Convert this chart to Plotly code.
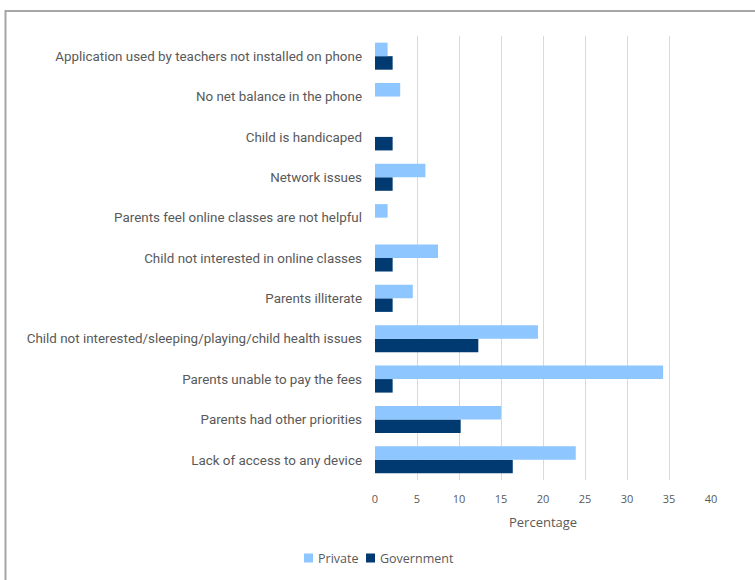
import plotly.graph_objects as go

# Reasons for not attending online classes, listed bottom-to-top as drawn
reasons = [
    "Lack of access to any device",
    "Parents had other priorities",
    "Parents unable to pay the fees",
    "Child not interested/sleeping/playing/child health issues",
    "Parents illiterate",
    "Child not interested in online classes",
    "Parents feel online classes are not helpful",
    "Network issues",
    "Child is handicaped",
    "No net balance in the phone",
    "Application used by teachers not installed on phone",
]
private = [23.9, 15.0, 34.3, 19.4, 4.5, 7.5, 1.5, 6.0, 0, 3.0, 1.5]
government = [16.4, 10.2, 2.1, 12.3, 2.1, 2.1, 0, 2.1, 2.1, 0, 2.1]

x_ticks = [0, 5, 10, 15, 20, 25, 30, 35, 40]

PRIVATE_COLOR = "#8ec6ff"
GOV_COLOR = "#003a70"
TEXT_COLOR = "#595959"

# plot area in pixels
L, R, T, B = 375, 44, 36, 100
W, H = 755, 580
pw, ph = W - L - R, H - T - B

def px_x(p):
    return (p - L) / pw

def px_y(p):
    return (H - B - p) / ph

fig = go.Figure()
fig.add_trace(go.Bar(
    y=reasons, x=government, orientation="h", name="Government",
    marker=dict(color=GOV_COLOR, line=dict(width=0)),
))
fig.add_trace(go.Bar(
    y=reasons, x=private, orientation="h", name="Private",
    marker=dict(color=PRIVATE_COLOR, line=dict(width=0)),
))

# compact legend below the axis: colour keys with their labels
legend_items = [("Private", PRIVATE_COLOR, 304, 316), ("Government", GOV_COLOR, 366, 378)]
legend_y = 558
annotations = [
    dict(text="Percentage", xref="paper", yref="paper",
         x=px_x(543), y=px_y(521.5), xanchor="center", yanchor="middle",
         showarrow=False,
         font=dict(family="Open Sans", size=13, color=TEXT_COLOR)),
]
shapes = [
    # outer frame around the chart
    dict(type="rect", xref="paper", yref="paper",
         x0=px_x(5.5), x1=px_x(780), y0=px_y(600), y1=px_y(11),
         line=dict(color="#a6a6a6", width=2), layer="below"),
]
for name, color, key_x, text_x in legend_items:
    shapes.append(dict(type="rect", xref="paper", yref="paper",
                       x0=px_x(key_x), x1=px_x(key_x + 9),
                       y0=px_y(legend_y + 4.5), y1=px_y(legend_y - 4.5),
                       fillcolor=color, line=dict(width=0)))
    annotations.append(dict(text=name, xref="paper", yref="paper",
                            x=px_x(text_x), y=px_y(legend_y),
                            xanchor="left", yanchor="middle", showarrow=False,
                            font=dict(family="Open Sans", size=12.5, color=TEXT_COLOR)))

fig.update_layout(
    width=W, height=H,
    margin=dict(l=L, r=R, t=T, b=B, pad=0),
    paper_bgcolor="white", plot_bgcolor="white",
    barmode="group", bargap=0.33, bargroupgap=0,
    showlegend=False,
    xaxis=dict(
        range=[0, 40], tickvals=x_ticks, ticktext=[str(v) for v in x_ticks],
        showgrid=True, gridcolor="#d9d9d9", gridwidth=1.3,
        zeroline=False, showline=False, ticks="",
        tickfont=dict(family="Open Sans", size=11, color=TEXT_COLOR),
        ticklabelstandoff=11, fixedrange=True,
    ),
    yaxis=dict(
        categoryorder="array", categoryarray=reasons,
        showgrid=False, zeroline=False, showline=False, ticks="",
        tickfont=dict(family="Roboto", size=13.4, color=TEXT_COLOR),
        ticklabelstandoff=12, fixedrange=True,
    ),
    annotations=annotations,
    shapes=shapes,
)

fig.write_html("out.html")
